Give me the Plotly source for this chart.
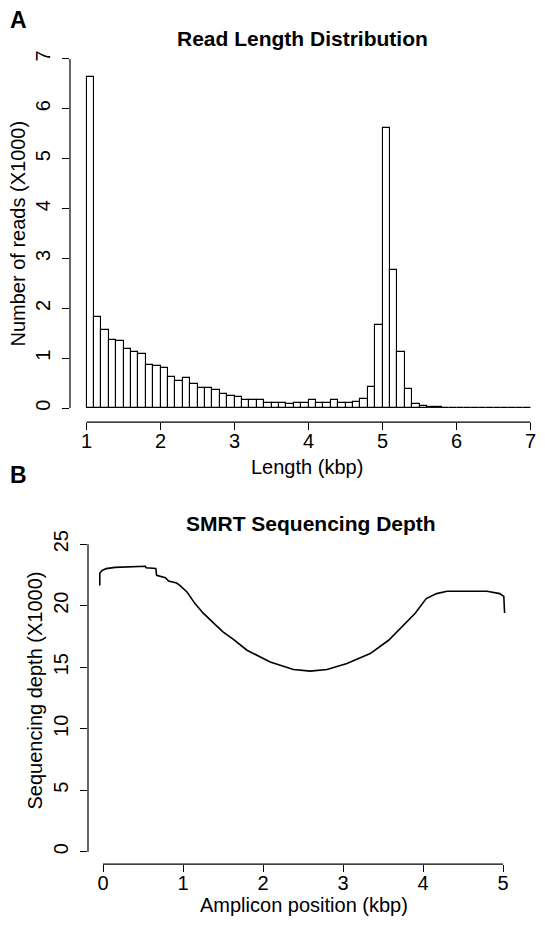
import plotly.graph_objects as go

# The page body has a default 8px margin, so the figure is drawn 8px in from the
# window's top-left corner; positions below are given in window pixels.
WIN_W, WIN_H = 545, 926
OFF = 8
W, H = WIN_W - 2 * OFF, WIN_H - 2 * OFF

# ---- Panel A data: read length histogram (bins of 0.1 kbp from 1 to 7) ----
bin_width = 0.1
bin_left = [round(1.0 + bin_width * i, 1) for i in range(60)]
reads_k = [6.63, 1.82, 1.57, 1.37, 1.35, 1.18, 1.12, 1.08, 0.87, 0.85,
           0.81, 0.63, 0.54, 0.60, 0.48, 0.41, 0.41, 0.37, 0.29, 0.25,
           0.22, 0.16, 0.17, 0.16, 0.11, 0.11, 0.10, 0.08, 0.11, 0.11,
           0.16, 0.11, 0.11, 0.16, 0.11, 0.11, 0.12, 0.18, 0.43, 1.67,
           5.62, 2.77, 1.12, 0.38, 0.09, 0.04, 0.02, 0.015, 0.01, 0.008,
           0.006, 0.005, 0.005, 0.004, 0.004, 0.003, 0.003, 0.003, 0.002, 0.002]
a_xticks = [1, 2, 3, 4, 5, 6, 7]
a_yticks = [0, 1, 2, 3, 4, 5, 6, 7]

# ---- Panel B data: sequencing depth along amplicon ----
pos_kbp = [-0.04, -0.04, -0.01, 0.04, 0.15, 0.34, 0.53, 0.54, 0.66, 0.67,
           0.78, 0.82, 0.92, 0.96, 1.05, 1.15, 1.25, 1.38, 1.50, 1.63,
           1.80, 2.09, 2.38, 2.59, 2.80, 3.05, 3.34, 3.57, 3.71, 3.90,
           4.04, 4.17, 4.30, 4.55, 4.80, 4.96, 5.01, 5.02]
depth_k = [21.65, 22.63, 22.87, 23.01, 23.11, 23.17, 23.20, 23.08, 23.03, 22.47,
           22.28, 22.00, 21.84, 21.65, 21.11, 20.17, 19.41, 18.60, 17.87, 17.27,
           16.38, 15.43, 14.82, 14.68, 14.82, 15.30, 16.11, 17.19, 18.14, 19.36,
           20.58, 20.98, 21.17, 21.20, 21.17, 20.98, 20.76, 19.41]
b_xticks = [0, 1, 2, 3, 4, 5]
b_yticks = [0, 5, 10, 15, 20, 25]

FONT = "Liberation Sans, Arial, Helvetica, sans-serif"
TICK_SIZE = 20
LAB_SIZE = 20
MAIN_SIZE = 21

def px(x):
    return (x - OFF) / W

def py(y):
    return 1 - (y - OFF) / H

fig = go.Figure()

fig.add_trace(go.Bar(
    x=[b + bin_width / 2 for b in bin_left], y=reads_k, width=bin_width,
    marker=dict(color="white", line=dict(color="black", width=1.1)),
    xaxis="x", yaxis="y", showlegend=False, hoverinfo="skip"))

fig.add_trace(go.Scatter(
    x=pos_kbp, y=depth_k, mode="lines",
    line=dict(color="black", width=1.6),
    xaxis="x2", yaxis="y2", showlegend=False, hoverinfo="skip"))

common = dict(showgrid=False, zeroline=False, showline=False, ticks="outside",
              ticklen=7, tickwidth=1, tickcolor="black",
              tickfont=dict(family=FONT, size=TICK_SIZE, color="black"))

fig.update_layout(
    width=W, height=H,
    margin=dict(l=0, r=0, t=0, b=0),
    paper_bgcolor="white", plot_bgcolor="white",
    bargap=0,
    xaxis=dict(domain=[px(70), 1.0], range=[0.777, 1 + (WIN_W - OFF - 86.5) / 74.0],
               anchor="y", tickvals=a_xticks, ticklabelstandoff=-6, **common),
    yaxis=dict(domain=[py(421), py(43)], range=[-0.28, 7.28], anchor="x",
               tickvals=a_yticks, tickangle=-90, ticklabelstandoff=4, **common),
    xaxis2=dict(domain=[px(88), px(519)], range=[-0.1875, 5.2], anchor="y2",
                tickvals=b_xticks, ticklabelstandoff=-6, **common),
    yaxis2=dict(domain=[py(864), py(531)], range=[-1, 26], anchor="x2",
                tickvals=b_yticks, tickangle=-90, ticklabelstandoff=4, **common),
)

shapes = [
    dict(type="line", xref="x", yref="y domain", x0=1, x1=7, y0=0, y1=0,
         line=dict(color="black", width=1.2)),
    dict(type="line", xref="x domain", yref="y", x0=0, x1=0, y0=0, y1=7,
         line=dict(color="black", width=1.2)),
    dict(type="line", xref="x2", yref="y2 domain", x0=0, x1=5, y0=0, y1=0,
         line=dict(color="black", width=1.2)),
    dict(type="line", xref="x2 domain", yref="y2", x0=0, x1=0, y0=0, y1=25,
         line=dict(color="black", width=1.2)),
]
fig.update_layout(shapes=shapes)

def ann(text, x, y, size=LAB_SIZE, bold=False, angle=0):
    return dict(text=f"<b>{text}</b>" if bold else text, x=px(x), y=py(y),
                xref="paper", yref="paper", showarrow=False, textangle=angle,
                xanchor="center", yanchor="middle",
                font=dict(family=FONT, size=size, color="black"))

fig.update_layout(annotations=[
    ann("A", 18, 18, size=23, bold=True),
    ann("Read Length Distribution", 302, 37, size=MAIN_SIZE, bold=True),
    ann("Length (kbp)", 307, 466),
    ann("Number of reads (X1000)", 18, 232, angle=-90),
    ann("B", 18, 474, size=23, bold=True),
    ann("SMRT Sequencing Depth", 311, 523, size=MAIN_SIZE, bold=True),
    ann("Amplicon position (kbp)", 304, 905),
    ann("Sequencing depth (X1000)", 35, 690, angle=-90),
])

fig.write_html("out.html")
